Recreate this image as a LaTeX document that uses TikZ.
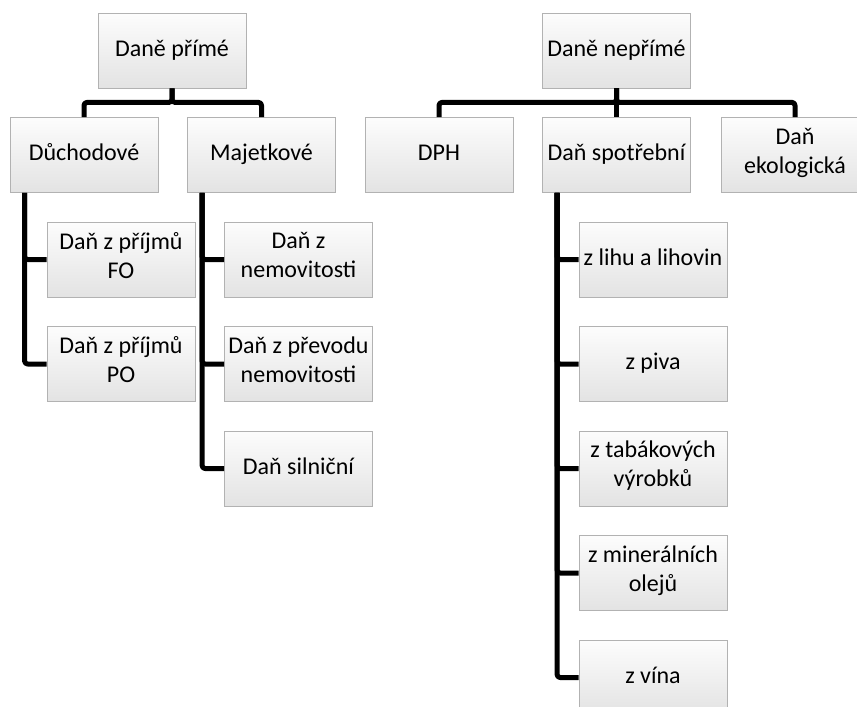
\documentclass[tikz,border=0pt]{standalone}
\usepackage{fontspec}
\setmainfont{Carlito}
\tikzset{
  dbox/.style={rectangle, draw=gray!60, line width=0.8pt,
    top color=gray!2, bottom color=gray!22,
    minimum width=148pt, minimum height=75pt, inner sep=1pt,
    align=center, font=\fontsize{24}{29}\selectfont,
    execute at begin node=\strut, execute at end node=\strut},
  link/.style={line width=5pt, rounded corners=3pt, line join=round}
}

\begin{document}
\begin{tikzpicture}[x=1pt,y=-1pt]
    \useasboundingbox (0,0) rectangle (857,707);
    \clip (0,0) rectangle (857,707);

    % top level
    \node[dbox] (prime)   at (172,50.5)   {Daně přímé};
    \node[dbox] (neprime) at (616.5,50.5) {Daně nepřímé};

    % second level
    \node[dbox] (duch)  at (84,155)    {Důchodové};
    \node[dbox] (majet) at (261.5,155) {Majetkové};
    \node[dbox] (dph)   at (439,155)   {DPH};
    \node[dbox] (spotr) at (616.5,155) {Daň spotřební};
    \node[dbox] (ekol)  at (795,155)   {Daň\\ekologická};

    % third level
    \node[dbox] (fo)     at (121,259.5)   {Daň z příjmů\\FO};
    \node[dbox] (po)     at (121,364)     {Daň z příjmů\\PO};
    \node[dbox] (nemov)  at (298.5,259.5) {Daň z\\nemovitosti};
    \node[dbox] (prevod) at (298.5,364)   {Daň z převodu\\nemovitosti};
    \node[dbox] (siln)   at (298.5,468.5) {Daň silniční};
    \node[dbox] (lih)    at (653,259.5)   {z lihu a lihovin};
    \node[dbox] (pivo)   at (653,364)     {z piva};
    \node[dbox] (tabak)  at (653,468.5)   {z tabákových\\výrobků};
    \node[dbox] (olej)   at (653,573)     {z minerálních\\olejů};
    \node[dbox] (vino)   at (653,677.5)   {z vína};

    \draw[link] (prime.south) -- ++(0,14) -| (duch.north);
    \draw[link] (prime.south) -- ++(0,14) -| (majet.north);
    \draw[link] (neprime.south) -- ++(0,14) -| (dph.north);
    \draw[link] (neprime.south) -- (spotr.north);
    \draw[link] (neprime.south) -- ++(0,14) -| (ekol.north);

    \draw[link] ([xshift=15pt]duch.south west) |- (fo.west);
    \draw[link] ([xshift=15pt]duch.south west) |- (po.west);
    \draw[link] ([xshift=15pt]majet.south west) |- (nemov.west);
    \draw[link] ([xshift=15pt]majet.south west) |- (prevod.west);
    \draw[link] ([xshift=15pt]majet.south west) |- (siln.west);
    \draw[link] ([xshift=15pt]spotr.south west) |- (lih.west);
    \draw[link] ([xshift=15pt]spotr.south west) |- (pivo.west);
    \draw[link] ([xshift=15pt]spotr.south west) |- (tabak.west);
    \draw[link] ([xshift=15pt]spotr.south west) |- (olej.west);
    \draw[link] ([xshift=15pt]spotr.south west) |- (vino.west);
\end{tikzpicture}
\end{document}
